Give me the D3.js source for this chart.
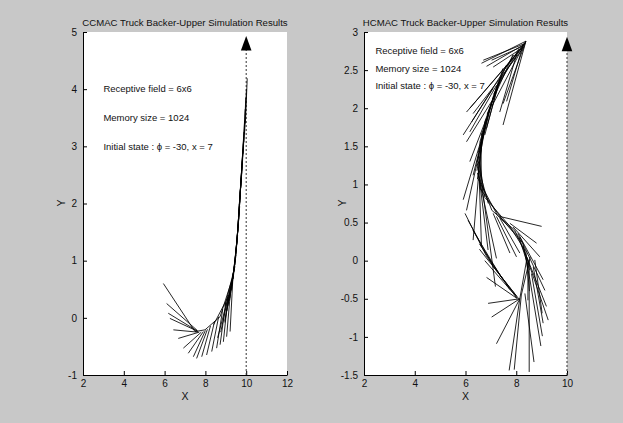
<!DOCTYPE html>
<html>
<head>
<meta charset="utf-8">
<script src="https://cdn.jsdelivr.net/npm/d3@7"></script>
<style>
  body { margin: 0; background: #c8c8c8; }
  svg { display: block; }
  text { font-family: "Liberation Sans", Arial, sans-serif; fill: #111; }
</style>
</head>
<body>
<div id="chart-container"></div>
<script>
// truck body segments [x1, y1, x2, y2]
const ccmacTruck = [
    [5.94, 0.60, 7.49, -0.24], [6.10, 0.25, 7.60, -0.22], [6.18, 0.08, 7.60, -0.23],
    [6.26, -0.01, 7.65, -0.24], [6.43, -0.21, 7.62, -0.25], [6.67, -0.36, 7.70, -0.25],
    [6.92, -0.53, 7.80, -0.25], [7.16, -0.62, 7.90, -0.24], [7.41, -0.68, 8.00, -0.22],
    [7.57, -0.71, 8.10, -0.20], [7.82, -0.68, 8.25, -0.14], [8.06, -0.65, 8.45, -0.06],
    [8.31, -0.59, 8.65, 0.02], [8.55, -0.53, 8.85, 0.15], [8.72, -0.47, 9.00, 0.27],
    [8.88, -0.42, 9.12, 0.40], [9.04, -0.33, 9.25, 0.55], [9.21, -0.24, 9.35, 0.72],
    [7.49, -0.24, 7.98, -0.21], [7.98, -0.21, 8.72, 0.02], [8.40, -0.12, 9.12, 0.37],
    [8.72, 0.02, 9.30, 0.66], [8.95, 0.20, 9.45, 0.90],
    [9.30, 0.66, 8.95, -0.05], [9.40, 0.85, 9.05, 0.12], [9.48, 1.05, 9.18, 0.30],
    [9.53, 1.25, 9.28, 0.48], [9.58, 1.45, 9.36, 0.68], [9.62, 1.65, 9.42, 0.88],
    [9.66, 1.85, 9.48, 1.07], [9.69, 2.05, 9.53, 1.27], [9.72, 2.25, 9.57, 1.47],
    [9.76, 2.45, 9.61, 1.67], [9.79, 2.65, 9.65, 1.87], [9.82, 2.85, 9.69, 2.07],
    [9.86, 3.05, 9.73, 2.27], [9.89, 3.25, 9.77, 2.47], [9.92, 3.45, 9.81, 2.67],
    [9.95, 3.65, 9.85, 2.87], [9.98, 3.85, 9.89, 3.07], [10.01, 4.00, 9.92, 3.22],
    [10.05, 4.19, 9.96, 3.40],
    [9.12, 0.37, 8.60, -0.35], [9.21, 0.52, 8.75, -0.25], [9.35, 0.75, 8.95, -0.08],
    [9.45, 0.95, 9.10, 0.20], [9.50, 1.10, 9.20, 0.35], [9.56, 1.35, 9.30, 0.58],
    [9.60, 1.55, 9.38, 0.78], [9.64, 1.75, 9.45, 0.97], [9.68, 1.95, 9.50, 1.17],
    [9.71, 2.15, 9.55, 1.37], [9.74, 2.35, 9.59, 1.57], [9.78, 2.55, 9.62, 1.77],
    [9.81, 2.75, 9.66, 1.97], [9.84, 2.95, 9.70, 2.17], [9.87, 3.15, 9.75, 2.37]
];

const hcmacTruck = [
    // main curve
    [8.38, 2.88, 7.47, 2.48], [8.30, 2.84, 7.24, 2.30], [8.10, 2.78, 7.10, 2.18],
    [7.87, 2.70, 7.04, 2.08], [7.60, 2.56, 6.85, 1.92], [7.47, 2.48, 6.76, 1.82],
    [7.30, 2.35, 6.62, 1.64], [7.24, 2.30, 6.57, 1.56], [7.10, 2.16, 6.50, 1.42],
    [7.04, 2.08, 6.45, 1.29], [6.90, 1.95, 6.45, 1.18], [6.76, 1.82, 6.47, 1.07],
    [6.65, 1.68, 6.57, 0.95], [6.57, 1.56, 6.66, 0.89], [6.50, 1.40, 6.76, 0.83],
    [6.45, 1.29, 6.90, 0.75], [6.47, 1.15, 7.04, 0.66], [6.50, 1.07, 7.25, 0.60],
    [6.57, 0.95, 7.47, 0.53], [6.76, 0.83, 7.70, 0.47], [7.04, 0.66, 7.94, 0.40],
    [7.25, 0.60, 8.10, 0.32], [7.47, 0.53, 8.26, 0.23], [7.70, 0.47, 8.38, 0.12],
    [7.94, 0.40, 8.46, 0.01], [8.10, 0.32, 8.52, -0.12], [8.26, 0.23, 8.54, -0.25],
    [8.38, 0.12, 8.52, -0.40], [8.46, 0.01, 8.46, -0.52],
    // lower-left branch
    [5.98, 0.62, 6.84, 0.05], [6.10, 0.53, 7.10, -0.08], [6.29, 0.40, 7.47, -0.25],
    [6.55, 0.22, 7.75, -0.38], [6.84, 0.05, 8.02, -0.49], [7.10, -0.08, 8.10, -0.50],
    [6.55, 0.15, 8.00, -0.46], [6.76, 0.00, 8.02, -0.48], [6.83, -0.22, 8.05, -0.50],
    // whiskers at the top
    [8.38, 2.88, 6.63, 2.59], [8.35, 2.85, 6.70, 2.63], [8.33, 2.84, 6.83, 2.55],
    [8.30, 2.82, 7.03, 2.63], [8.28, 2.80, 7.09, 2.54], [8.38, 2.88, 7.48, 1.78],
    [8.35, 2.86, 7.03, 2.02], [8.30, 2.80, 6.30, 1.93], [8.20, 2.78, 6.04, 1.95],
    [8.10, 2.75, 6.17, 2.00], [7.90, 2.70, 6.24, 1.82], [8.38, 2.88, 7.48, 2.06],
    [8.27, 2.83, 7.62, 2.09], [8.01, 2.70, 7.35, 1.95],
    // whiskers along the upper bend
    [7.09, 2.26, 5.91, 1.65], [7.22, 2.30, 6.17, 1.69], [7.03, 2.09, 6.04, 1.56],
    [6.83, 1.87, 6.17, 1.30], [6.76, 1.74, 6.30, 1.12], [7.47, 2.52, 6.83, 1.74],
    [7.35, 2.39, 6.76, 1.65], [6.76, 1.74, 5.91, 0.80], [6.70, 1.65, 6.04, 0.66],
    [6.60, 1.45, 6.30, 0.27], [6.52, 1.30, 6.63, 0.18], [6.50, 1.20, 6.89, 0.14],
    [6.55, 1.05, 7.22, 0.03], [6.65, 0.98, 7.18, -0.34],
    // whiskers along the middle
    [7.35, 0.58, 9.00, 0.45], [7.75, 0.49, 8.80, 0.23], [7.88, 0.44, 8.93, 0.05],
    [8.14, 0.31, 9.13, -0.39], [8.27, 0.18, 9.26, -0.78], [8.07, 0.36, 9.06, -0.25],
    [8.41, 0.05, 9.19, -0.60], [7.22, 0.58, 8.01, 0.05], [7.09, 0.62, 7.75, 0.10],
    [7.35, 0.56, 8.14, 0.10],
    // whiskers at the bottom
    [8.14, -0.50, 8.41, 0.01], [8.20, -0.45, 8.55, 0.05], [8.51, 0.01, 8.51, -1.46],
    [8.14, -0.50, 7.72, -1.44], [8.20, -0.45, 7.92, -1.43], [8.34, -0.43, 8.70, -1.33],
    [8.54, -0.25, 8.97, -1.12], [8.60, -0.17, 9.03, -0.99], [8.67, -0.08, 9.06, -0.82],
    [8.73, 0.01, 9.02, -0.69], [8.14, -0.50, 7.22, -1.09], [8.14, -0.50, 7.03, -0.74],
    [8.14, -0.50, 6.89, -0.56]
];

const ccmacXTicks = [2, 4, 6, 8, 10, 12];
const ccmacYTicks = [-1, 0, 1, 2, 3, 4, 5];
const hcmacXTicks = [2, 4, 6, 8, 10];
const hcmacYTicks = [-1.5, -1, -0.5, 0, 0.5, 1, 1.5, 2, 2.5, 3];

const notes = ["Receptive field = 6x6", "Memory size = 1024", "Initial state : \u03d5 = -30, x = 7"];
const ccmacNoteY = [4, 3.5, 3];
const hcmacNoteY = [2.76, 2.52, 2.3];

const svg = d3.select("#chart-container")
    .append("svg")
    .attr("width", 623)
    .attr("height", 423);

function drawPanel(opt) {
    const x = d3.scaleLinear().domain(opt.xDomain).range(opt.xRange);
    const y = d3.scaleLinear().domain(opt.yDomain).range([375, 32]);
    const g = svg.append("g");

    g.append("rect")
        .attr("x", opt.xRange[0]).attr("y", 32)
        .attr("width", opt.xRange[1] - opt.xRange[0])
        .attr("height", 343)
        .attr("fill", "#fff");

    const fmt = d => String(d);
    const xAxis = g.append("g")
        .attr("transform", "translate(0,375)")
        .call(d3.axisBottom(x).tickValues(opt.xTicks).tickFormat(fmt)
            .tickSizeInner(-4).tickSizeOuter(0).tickPadding(5));
    const yAxis = g.append("g")
        .attr("transform", `translate(${opt.xRange[0]},0)`)
        .call(d3.axisLeft(y).tickValues(opt.yTicks).tickFormat(fmt)
            .tickSizeInner(-4).tickSizeOuter(0).tickPadding(6));
    [xAxis, yAxis].forEach(a => {
        a.selectAll("text").style("font-size", "10px").attr("fill", "#222")
            .style("font-family", "'Liberation Sans', Arial, sans-serif");
        a.select(".domain").attr("stroke", "#000");
        a.selectAll(".tick line").attr("stroke", "#000");
    });

    // dotted target line and arrow head
    g.append("line")
        .attr("x1", x(10)).attr("x2", x(10))
        .attr("y1", y(opt.yDomain[0])).attr("y2", y(opt.arrowY))
        .attr("stroke", "#333")
        .attr("stroke-dasharray", "2,2");
    g.append("path")
        .attr("transform", `translate(${x(10)},${y(opt.arrowY)})`)
        .attr("d", "M0,-7.5L5.3,7L-5.3,7Z")
        .attr("fill", "#000");

    g.append("g")
        .selectAll("line")
        .data(opt.segments)
        .join("line")
        .attr("x1", d => x(d[0])).attr("y1", d => y(d[1]))
        .attr("x2", d => x(d[2])).attr("y2", d => y(d[3]))
        .attr("stroke", "#000")
        .attr("stroke-width", 0.85);

    g.append("g")
        .selectAll("text")
        .data(notes)
        .join("text")
        .attr("x", x(opt.noteX))
        .attr("y", (d, i) => y(opt.noteY[i]))
        .attr("dy", "0.35em")
        .style("font-size", "9.5px")
        .text(d => d);

    const cx = (opt.xRange[0] + opt.xRange[1]) / 2;
    g.append("text")
        .attr("x", cx).attr("y", 26)
        .attr("text-anchor", "middle")
        .style("font-size", "9.6px")
        .text(opt.title);
    g.append("text")
        .attr("x", cx).attr("y", 400)
        .attr("text-anchor", "middle")
        .style("font-size", "10.5px")
        .text("X");
    g.append("text")
        .attr("transform", `translate(${opt.xRange[0] - 18},203) rotate(-90)`)
        .attr("text-anchor", "middle")
        .style("font-size", "10.5px")
        .text("Y");
}

drawPanel({
    xDomain: [2, 12], xRange: [83, 287], yDomain: [-1, 5],
    xTicks: ccmacXTicks, yTicks: ccmacYTicks,
    segments: ccmacTruck, arrowY: 4.8,
    noteX: 3, noteY: ccmacNoteY,
    title: "CCMAC Truck Backer-Upper Simulation Results"
});
drawPanel({
    xDomain: [2, 10], xRange: [364, 567], yDomain: [-1.5, 3],
    xTicks: hcmacXTicks, yTicks: hcmacYTicks,
    segments: hcmacTruck, arrowY: 2.84,
    noteX: 2.45, noteY: hcmacNoteY,
    title: "HCMAC Truck Backer-Upper Simulation Results"
});
</script>
</body>
</html>
